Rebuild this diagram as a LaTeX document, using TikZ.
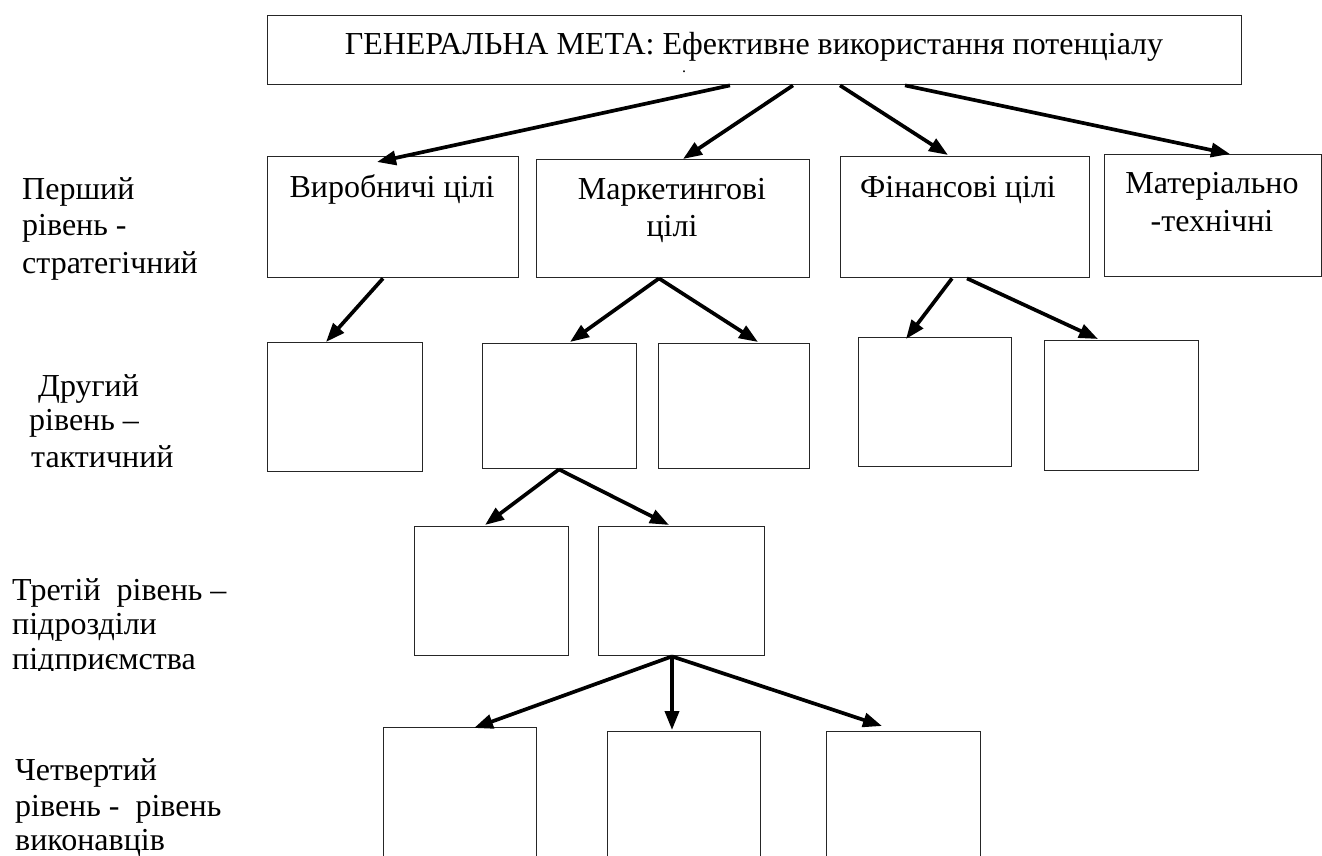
\documentclass[tikz,border=0pt]{standalone}
\usepackage{fontspec}
\setmainfont{Liberation Serif}
\usetikzlibrary{arrows.meta}
\begin{document}
\begin{tikzpicture}[x=1pt,y=-1pt,
  box/.style={draw=black!85, line width=1.4pt, inner sep=0pt, anchor=north west},
  txt/.style={inner sep=0pt, anchor=base, font=\fontsize{32}{37}\selectfont},
  lbl/.style={inner sep=0pt, anchor=base west, font=\fontsize{32}{37}\selectfont},
  arr/.style={line width=3.7pt, -{Triangle[length=19pt,width=14pt]}}
]
\useasboundingbox (0,0) rectangle (1322,856);

% boxes
\node[box, minimum width=974pt, minimum height=69pt] (goal) at (267,15) {};
\node[box, minimum width=251pt, minimum height=121pt] (vyr) at (267,156) {};
\node[box, minimum width=273pt, minimum height=118pt] (mark) at (536,159) {};
\node[box, minimum width=249pt, minimum height=121pt] (fin) at (840,156) {};
\node[box, minimum width=217pt, minimum height=122pt] (mat) at (1104,154) {};
\node[box, minimum width=155pt, minimum height=129pt] (a) at (267,342) {};
\node[box, minimum width=154pt, minimum height=125pt] (b) at (482,343) {};
\node[box, minimum width=151pt, minimum height=125pt] (c) at (658,343) {};
\node[box, minimum width=153pt, minimum height=129pt] (d) at (858,337) {};
\node[box, minimum width=154pt, minimum height=130pt] (e) at (1044,340) {};
\node[box, minimum width=154pt, minimum height=129pt] (f) at (414,526) {};
\node[box, minimum width=166pt, minimum height=129pt] (g) at (598,526) {};
\node[box, minimum width=153pt, minimum height=140pt] (h) at (383,727) {};
\node[box, minimum width=153pt, minimum height=140pt] (i) at (607,731) {};
\node[box, minimum width=154pt, minimum height=140pt] (j) at (826,731) {};

% texts in boxes
\node[txt] (goaltxt) at (754,55) {ГЕНЕРАЛЬНА МЕТА: Ефективне використання потенціалу};
\node[txt, font=\fontsize{16}{18}\selectfont] (goaldot) at (684,73) {.};
\node[txt] (vyrtxt) at (392,197) {Виробничі цілі};
\node[txt] (marktxt1) at (672,199) {Маркетингові};
\node[txt] (marktxt2) at (672,236) {цілі};
\node[txt] (fintxt) at (958,197) {Фінансові цілі};
\node[txt] (mattxt1) at (1212,193) {Матеріально};
\node[txt] (mattxt2) at (1212,231) {-технічні};

% level labels
\node[lbl] (l1a) at (22,199) {Перший};
\node[lbl] (l1b) at (22,235) {рівень -};
\node[lbl] (l1c) at (22,273) {стратегічний};
\node[lbl] (l2a) at (38,396) {Другий};
\node[lbl] (l2b) at (29,430) {рівень –};
\node[lbl] (l2c) at (31,467) {тактичний};
\node[lbl] (l3a) at (12,600) {Третій~~рівень –};
\node[lbl] (l3b) at (12,634) {підрозділи};
\begin{scope}
\clip (0,640) rectangle (300,670);
\node[lbl] (l3c) at (12,669) {підприємства};
\end{scope}
\node[lbl] (l4a) at (15,780) {Четвертий};
\node[lbl] (l4b) at (15,816) {рівень -~~рівень};
\node[lbl] (l4c) at (15,850) {виконавців};

% arrows
\draw[arr] ([xshift=463pt]goal.south west) -- ([xshift=110pt,yshift=-6pt]vyr.north west);
\draw[arr] ([xshift=526pt]goal.south west) -- ([xshift=147pt]mark.north west);
\draw[arr] ([xshift=573pt]goal.south west) -- ([xshift=108pt,yshift=1pt]fin.north west);
\draw[arr] ([xshift=638pt]goal.south west) -- ([xshift=126pt]mat.north west);
\draw[arr] ([xshift=116pt]vyr.south west) -- ([xshift=59pt]a.north west);
\draw[arr] ([xshift=123pt]mark.south west) -- ([xshift=88pt,yshift=1pt]b.north west);
\draw[arr] ([xshift=123pt]mark.south west) -- ([xshift=100pt,yshift=1pt]c.north west);
\draw[arr] ([xshift=112pt]fin.south west) -- ([xshift=48pt,yshift=-2pt]d.north west);
\draw[arr] ([xshift=127pt]fin.south west) -- ([xshift=54pt,yshift=1pt]e.north west);
\draw[arr] ([xshift=77pt]b.south west) -- ([xshift=71pt,yshift=1pt]f.north west);
\draw[arr] ([xshift=77pt]b.south west) -- ([xshift=71pt,yshift=1pt]g.north west);
\draw[arr] ([xshift=74pt]g.south west) -- ([xshift=91pt,yshift=-1pt]h.north west);
\draw[arr] ([xshift=74pt]g.south west) -- ([xshift=65pt,yshift=1pt]i.north west);
\draw[arr] ([xshift=74pt]g.south west) -- ([xshift=56pt,yshift=5pt]j.north west);
\end{tikzpicture}
\end{document}
